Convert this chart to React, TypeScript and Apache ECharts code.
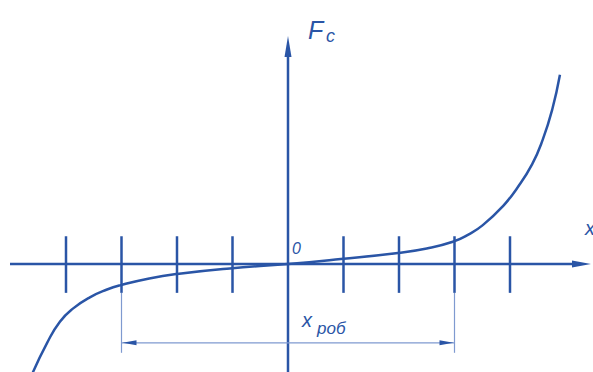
import React, { useEffect, useRef } from "react";
import * as echarts from "echarts";

// Curve F_c(x) (tick spacing = 1 unit on both axes)
const curveX = [-4.6, -4.34, -4.11, -3.87, -3.57, -3.26, -3.01, -2.5, -2.0, -1.05, 0, 0.95, 1.98, 2.5, 2.97, 3.25, 3.51, 3.87, 4.13, 4.4, 4.59, 4.76, 4.9];
const curveY = [-1.96, -1.42, -1.04, -0.8, -0.6, -0.46, -0.38, -0.26, -0.18, -0.08, 0, 0.09, 0.2, 0.28, 0.4, 0.53, 0.7, 1.04, 1.37, 1.8, 2.24, 2.78, 3.41];

// Tick positions on the x axis
const tickX = [-4, -3, -2, -1, 1, 2, 3, 4];
// Working range x_rob (extension lines)
const workRange = [-3, 3];

const MAIN = "#2a55a6";
const THIN = "#7f9ad0";

export default function App() {
  const ref = useRef<HTMLDivElement>(null);

  useEffect(() => {
    if (!ref.current) return;
    const chart = echarts.init(ref.current, null, { renderer: "svg" });
    const unit = 55.5;
    const ox = 288;
    const oy = 264;
    const W = 593;
    const H = 372;
    const xMin = -ox / unit;
    const xMax = (W - ox) / unit;
    const yMax = oy / unit;
    const yMin = -(H - oy) / unit;

    const font = "Liberation Sans, Arial, sans-serif";
    const txt = (text: string, x: number, y: number, size: number) => ({
      type: "text",
      x,
      y,
      silent: true,
      style: {
        text,
        font: `italic ${size}px ${font}`,
        fill: MAIN,
        verticalAlign: "top",
      },
    });

    chart.setOption({
      animation: false,
      backgroundColor: "#ffffff",
      grid: { left: 0, right: 0, top: 0, bottom: 0, containLabel: false },
      xAxis: { type: "value", min: xMin, max: xMax, show: false },
      yAxis: { type: "value", min: yMin, max: yMax, show: false },
      series: [
        {
          type: "custom",
          name: "vaxis",
          silent: true,
          data: [[0]],
          renderItem: (params: any, api: any) => {
            const p1 = api.coord([0, yMin]);
            const p2 = api.coord([0, (oy - 50) / unit]);
            const tip = api.coord([0, (oy - 36) / unit]);
            return {
              type: "group",
              children: [
                {
                  type: "line",
                  shape: { x1: p1[0], y1: p1[1] + 5, x2: p2[0], y2: p2[1] },
                  style: { stroke: MAIN, lineWidth: 2.5 },
                },
                {
                  type: "polygon",
                  shape: {
                    points: [
                      [tip[0], tip[1]],
                      [tip[0] - 3.5, tip[1] + 21],
                      [tip[0] + 3.5, tip[1] + 21],
                    ],
                  },
                  style: { fill: MAIN },
                },
              ],
            };
          },
        },
        {
          type: "custom",
          name: "haxis",
          silent: true,
          data: [[0]],
          renderItem: (params: any, api: any) => {
            const p1 = api.coord([(10 - ox) / unit, 0]);
            const p2 = api.coord([(575 - ox) / unit, 0]);
            const tip = api.coord([(591 - ox) / unit, 0]);
            return {
              type: "group",
              children: [
                {
                  type: "line",
                  shape: { x1: p1[0], y1: p1[1], x2: p2[0], y2: p2[1] },
                  style: { stroke: MAIN, lineWidth: 2.5 },
                },
                {
                  type: "polygon",
                  shape: {
                    points: [
                      [tip[0], tip[1]],
                      [tip[0] - 19, tip[1] - 3.5],
                      [tip[0] - 19, tip[1] + 3.5],
                    ],
                  },
                  style: { fill: MAIN },
                },
              ],
            };
          },
        },
        {
          type: "custom",
          name: "dimension",
          silent: true,
          data: [[workRange[0], workRange[1], -1.42]],
          renderItem: (params: any, api: any) => {
            const a = api.coord([api.value(0), api.value(2)]);
            const b = api.coord([api.value(1), api.value(2)]);
            return {
              type: "group",
              children: [
                {
                  type: "line",
                  shape: { x1: a[0], y1: a[1], x2: b[0], y2: b[1] },
                  style: { stroke: THIN, lineWidth: 1.2 },
                },
                {
                  type: "polygon",
                  shape: { points: [[a[0] + 1, a[1]], [a[0] + 15, a[1] - 2.5], [a[0] + 15, a[1] + 2.5]] },
                  style: { fill: MAIN },
                },
                {
                  type: "polygon",
                  shape: { points: [[b[0] - 1, b[1]], [b[0] - 15, b[1] - 2.5], [b[0] - 15, b[1] + 2.5]] },
                  style: { fill: MAIN },
                },
              ],
            };
          },
        },
        {
          type: "custom",
          name: "extension",
          silent: true,
          data: workRange.map((v) => [v]),
          renderItem: (params: any, api: any) => {
            const x = api.value(0);
            const p1 = api.coord([x, -0.52]);
            const p2 = api.coord([x, -1.6]);
            return {
              type: "line",
              shape: { x1: p1[0], y1: p1[1], x2: p2[0], y2: p2[1] },
              style: { stroke: THIN, lineWidth: 1.2 },
            };
          },
        },
        {
          type: "custom",
          name: "ticks",
          silent: true,
          data: tickX.map((v) => [v]),
          renderItem: (params: any, api: any) => {
            const x = api.value(0);
            const p1 = api.coord([x, 0.5]);
            const p2 = api.coord([x, -0.52]);
            return {
              type: "line",
              shape: { x1: p1[0], y1: p1[1], x2: p2[0], y2: p2[1] },
              style: { stroke: MAIN, lineWidth: 2.5 },
            };
          },
        },
        {
          type: "line",
          name: "Fc",
          data: curveX.map((x, i) => [x, curveY[i]]),
          smooth: 0.5,
          showSymbol: false,
          symbol: "none",
          clip: true,
          lineStyle: { color: MAIN, width: 2.5 },
          silent: true,
        },
      ],
      graphic: [
        txt("F", 308, 17, 25),
        txt("c", 326, 27, 18),
        txt("0", 292, 240, 16),
        txt("x", 302, 310, 20),
        txt("роб", 317, 320, 17),
        txt("x", 585, 218, 20),
      ],
    });
    return () => chart.dispose();
  }, []);

  return (
    <div
      ref={ref}
      style={{ position: "fixed", left: 0, top: 0, width: 593, height: 372, background: "#fff" }}
    />
  );
}
